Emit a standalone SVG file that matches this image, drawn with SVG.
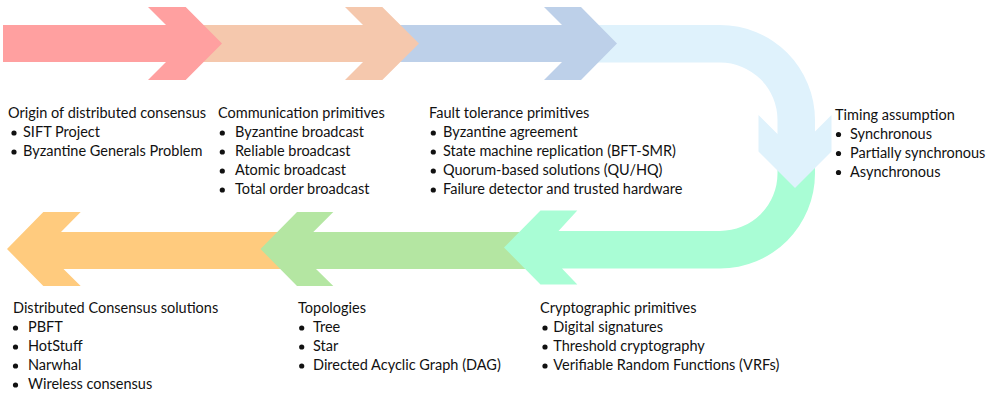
<svg xmlns="http://www.w3.org/2000/svg" width="992" height="394" viewBox="0 0 992 394">
<style>
text{font-family:Lato,"Noto Sans","Liberation Sans",sans-serif;font-size:14.5px;fill:#111111}
.b{fill:#111111}
</style>
<rect width="992" height="394" fill="#ffffff"/>
<g id="connectors">
<path id="a7" d="M300,232 V269 H63.5 L80.7,286 H43.3 L7,249 L43.3,212 H80.7 L61,232 Z" fill="#FFCB7E"/>
<path id="a6" d="M545,232 V269 H316 L333.3,286 H297 L260.5,249 L297,212 H333.3 L313.3,232 Z" fill="#B4E6A2"/>
<path id="a5" d="M777.5,140 H815 V173.5 A95,95 0 0 1 720,268.5 H562 L577.3,284.5 H540.5 L504,247.5 L540.5,210.5 H577.3 L558.5,231 H720 A57.5,57.5 0 0 0 777.5,173.5 Z" fill="#A9FDD5"/>
<path id="a4" d="M585,25 H720 A95,95 0 0 1 815,120 V131.5 L831.5,115 V151.5 L795,188 L758.5,151.5 V115 L777.5,134 V120 A57.5,57.5 0 0 0 720,62.5 H585 Z" fill="#DFF2FC"/>
<path id="a3" d="M387,25 H562 L544,7 H581 L617,43.5 L581,80 H544 L562,62 H387 Z" fill="#BDD0E9"/>
<path id="a2" d="M190,25 H363 L345,7 H382.3 L419,43.5 L382.3,80 H345 L363,62 H190 Z" fill="#F5C8AD"/>
<path id="a1" d="M3,25 H166 L148,7 H185.7 L222,43.5 L185.7,80 H148 L166,62 H3 Z" fill="#FFA0A0"/>
</g>
<g id="n1">
<text x="8" y="118">Origin of distributed consensus</text>
<circle class="b" cx="14" cy="133" r="2.6"/><text x="23" y="137">SIFT Project</text>
<circle class="b" cx="14" cy="152" r="2.6"/><text x="23" y="156">Byzantine Generals Problem</text>
</g>
<g id="n2">
<text x="218" y="118">Communication primitives</text>
<circle class="b" cx="222.3" cy="133" r="2.6"/><text x="235" y="137">Byzantine broadcast</text>
<circle class="b" cx="222.3" cy="152" r="2.6"/><text x="235" y="156">Reliable broadcast</text>
<circle class="b" cx="222.3" cy="171" r="2.6"/><text x="235" y="175">Atomic broadcast</text>
<circle class="b" cx="222.3" cy="190" r="2.6"/><text x="235" y="194">Total order broadcast</text>
</g>
<g id="n3">
<text x="429" y="118">Fault tolerance primitives</text>
<circle class="b" cx="433.3" cy="133" r="2.6"/><text x="443" y="137">Byzantine agreement</text>
<circle class="b" cx="433.3" cy="152" r="2.6"/><text x="443" y="156">State machine replication (BFT-SMR)</text>
<circle class="b" cx="433.3" cy="171" r="2.6"/><text x="443" y="175">Quorum-based solutions (QU/HQ)</text>
<circle class="b" cx="433.3" cy="190" r="2.6"/><text x="443" y="194">Failure detector and trusted hardware</text>
</g>
<g id="n4">
<text x="835" y="119.5">Timing assumption</text>
<circle class="b" cx="838.5" cy="134.5" r="2.6"/><text x="850" y="138.5">Synchronous</text>
<circle class="b" cx="838.5" cy="153.5" r="2.6"/><text x="850" y="157.5">Partially synchronous</text>
<circle class="b" cx="838.5" cy="172.5" r="2.6"/><text x="850" y="176.5">Asynchronous</text>
</g>
<g id="n5">
<text x="13" y="313">Distributed Consensus solutions</text>
<circle class="b" cx="15.5" cy="328" r="2.6"/><text x="28" y="332">PBFT</text>
<circle class="b" cx="15.5" cy="347" r="2.6"/><text x="28" y="351">HotStuff</text>
<circle class="b" cx="15.5" cy="366" r="2.6"/><text x="28" y="370">Narwhal</text>
<circle class="b" cx="15.5" cy="385" r="2.6"/><text x="28" y="389">Wireless consensus</text>
</g>
<g id="n6">
<text x="298" y="313">Topologies</text>
<circle class="b" cx="301.7" cy="328" r="2.6"/><text x="313" y="332">Tree</text>
<circle class="b" cx="301.7" cy="347" r="2.6"/><text x="313" y="351">Star</text>
<circle class="b" cx="301.7" cy="366" r="2.6"/><text x="313" y="370">Directed Acyclic Graph (DAG)</text>
</g>
<g id="n7">
<text x="540" y="313">Cryptographic primitives</text>
<circle class="b" cx="545" cy="328" r="2.6"/><text x="553.3" y="332">Digital signatures</text>
<circle class="b" cx="545" cy="347" r="2.6"/><text x="553.3" y="351">Threshold cryptography</text>
<circle class="b" cx="545" cy="366" r="2.6"/><text x="553.3" y="370">Verifiable Random Functions (VRFs)</text>
</g>
</svg>
